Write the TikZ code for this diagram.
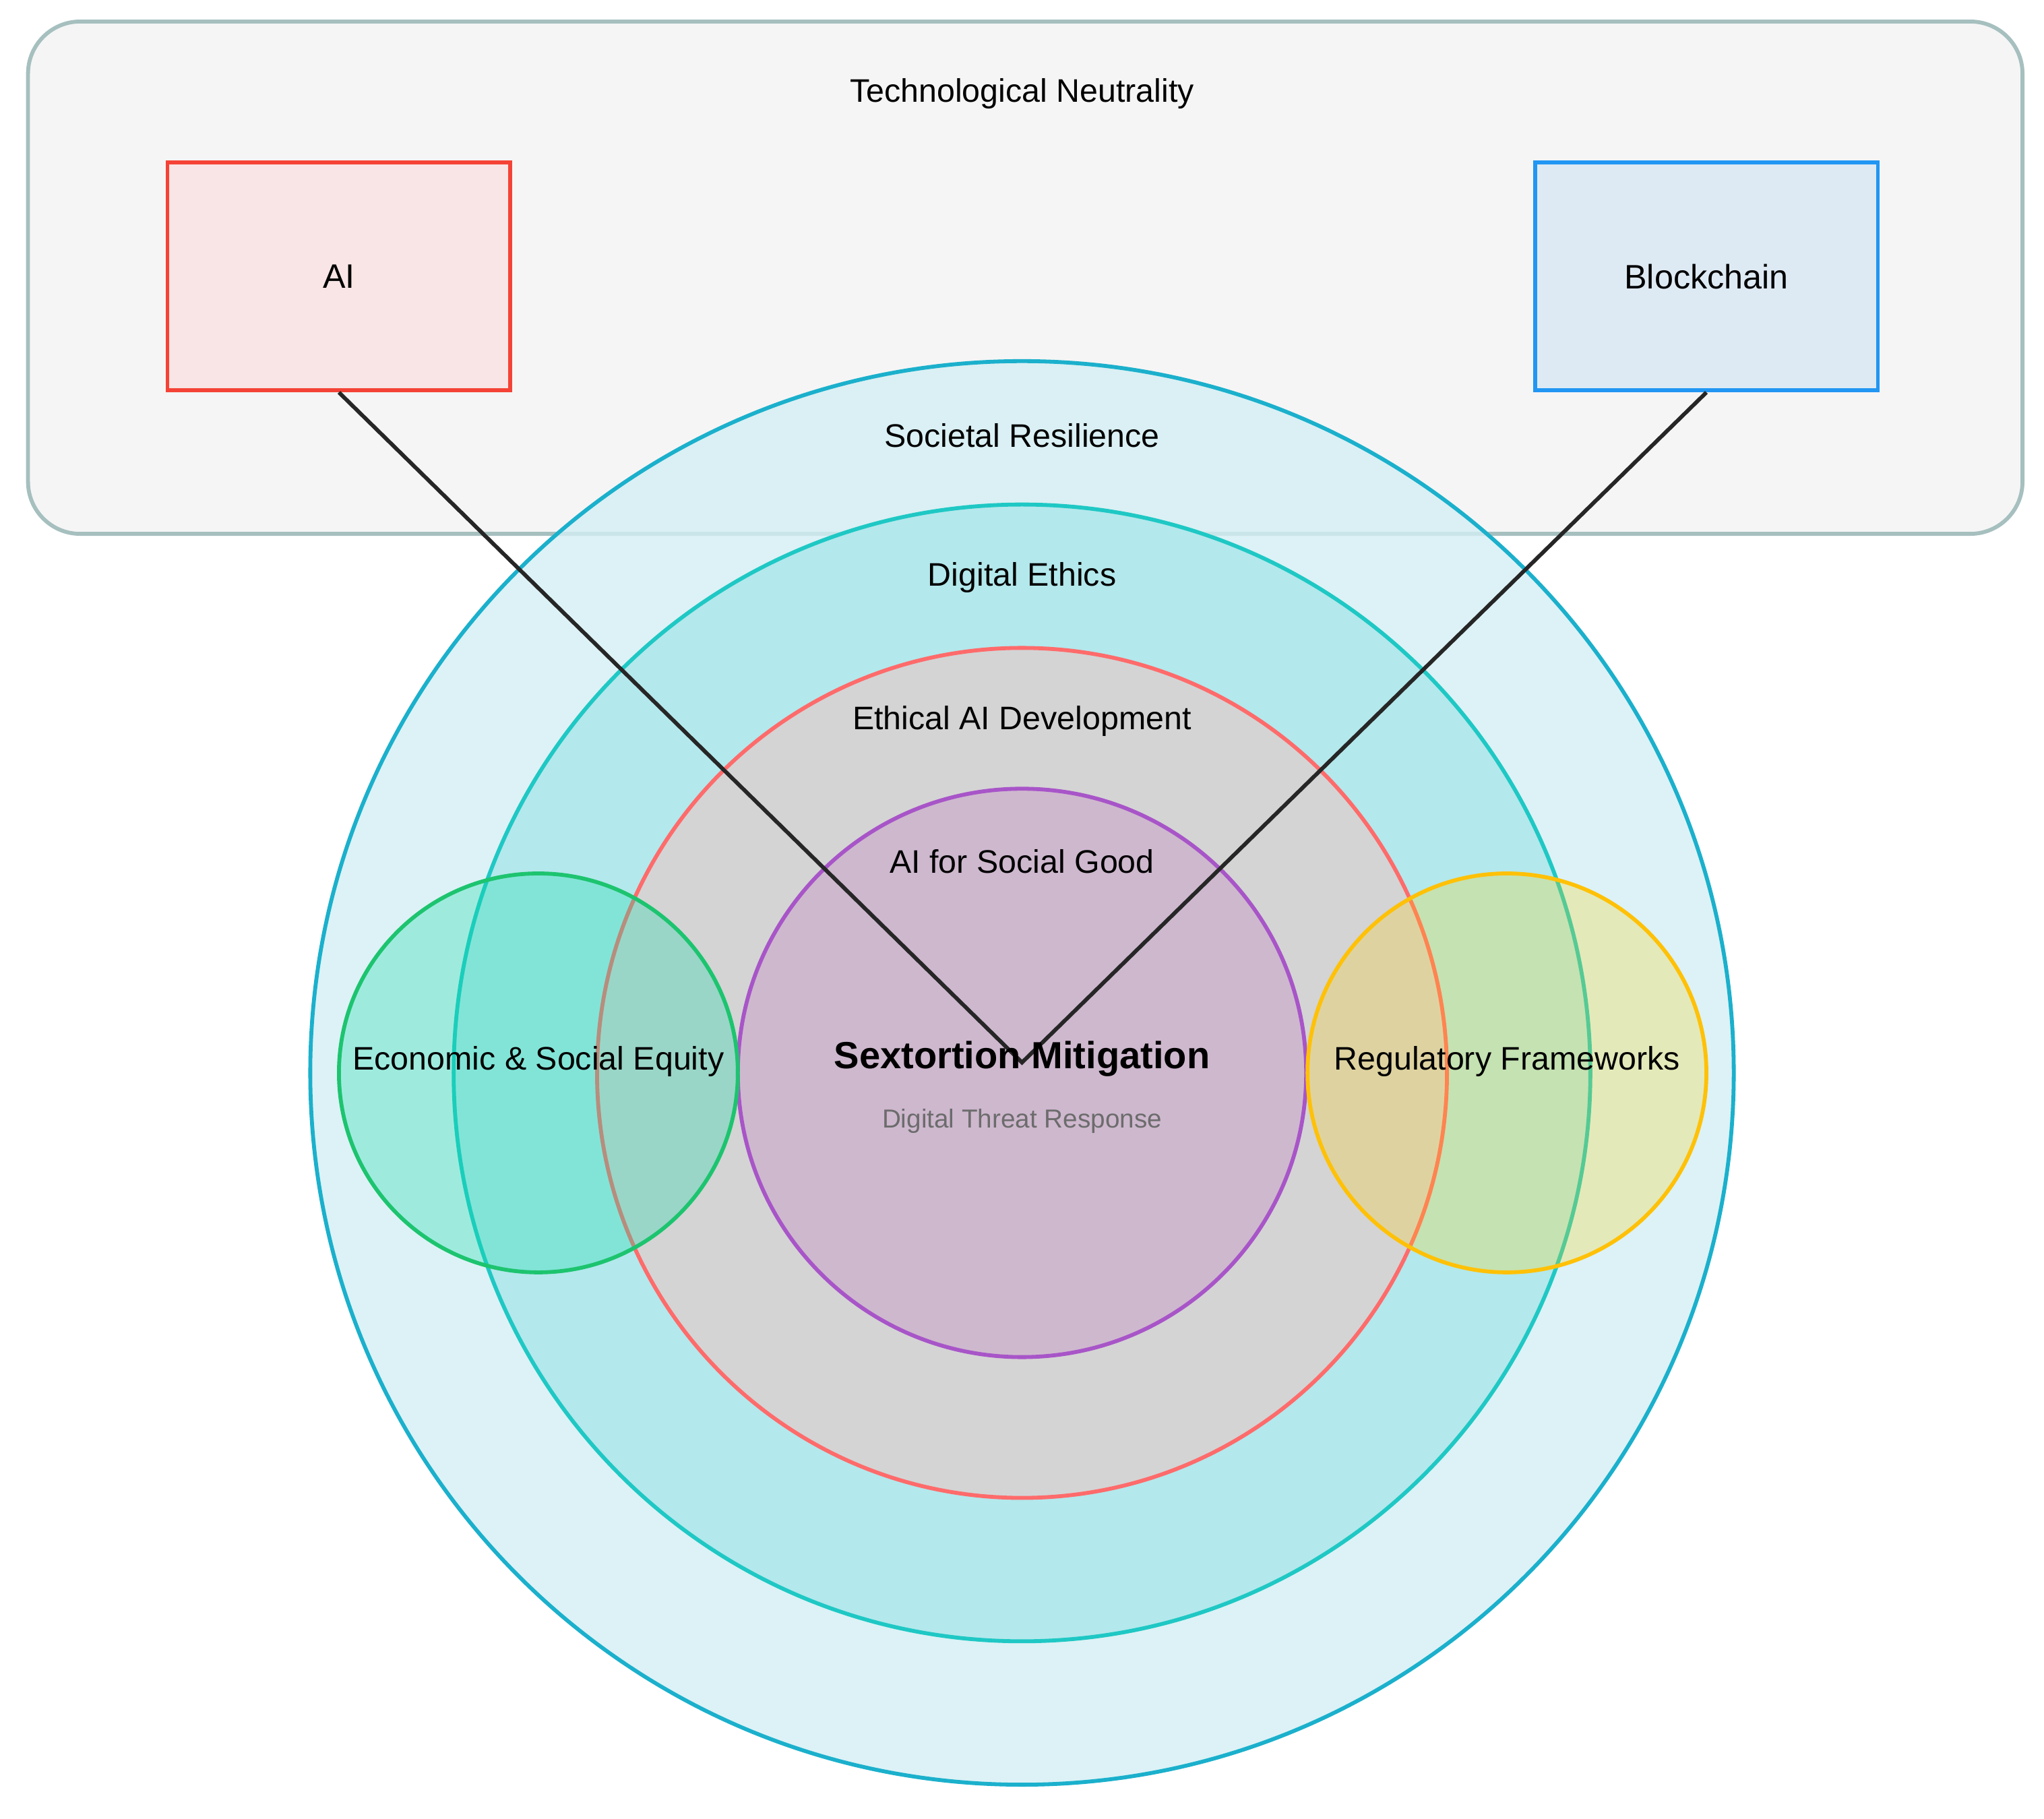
\documentclass[tikz,border=0pt]{standalone}
\usepackage{fontspec}
\setmainfont{Liberation Sans}
\definecolor{c1s}{HTML}{1BB0CC}
\definecolor{c1f}{HTML}{D4EFF4}
\definecolor{c2s}{HTML}{1FC8C4}
\definecolor{c2f}{HTML}{B3E8EC}
\definecolor{c3s}{HTML}{FF6B6B}
\definecolor{c3f}{HTML}{D4D4D4}
\definecolor{c4s}{HTML}{A855C8}
\definecolor{c4f}{HTML}{CEB8CE}
\definecolor{gs}{HTML}{1DC46F}
\definecolor{ys}{HTML}{FFC107}
\begin{document}
\begin{tikzpicture}[x=1pt,y=-1pt,
  lbl/.style={font=\fontsize{25}{28}\selectfont},
  ring/.style={circle,draw,line width=3pt,inner sep=0pt},
  box/.style={draw,line width=3pt,minimum width=263pt,minimum height=175pt,font=\fontsize{26}{30}\selectfont}]
\useasboundingbox (0,0) rectangle (1568,1395);
\fill[white] (0,0) rectangle (1568,1395);
\node[draw=gray!60!teal!50,line width=3pt,fill=gray!8,rounded corners=40pt,minimum width=1530pt,minimum height=393pt,anchor=north west] (tn) at (20,15) {};
\node[lbl] (tnl) at (784,72) {Technological Neutrality};
\node[box,draw={rgb,255:red,244;green,67;blue,54},fill={rgb,255:red,249;green,229;blue,229}] (ai) at (260,212) {AI};
\node[box,draw={rgb,255:red,33;green,150;blue,243},fill={rgb,255:red,222;green,234;blue,243}] (bc) at (1309,212) {Blockchain};
\node[ring,draw=c1s,fill=c1f,fill opacity=0.8,minimum size=1092pt] (r1) at (784,823) {};
\node[ring,draw=c2s,fill=c2f,minimum size=872pt] (r2) at (784,823) {};
\node[ring,draw=c3s,fill=c3f,minimum size=652pt] (r3) at (784,823) {};
\node[ring,draw=c4s,fill=c4f,minimum size=436pt] (r4) at (784,823) {};
\node[ring,draw=gs,fill=gs!60!cyan,fill opacity=0.3,minimum size=306pt] (eq) at (413,823) {};
\node[ring,draw=ys,fill=yellow!70!orange,fill opacity=0.25,minimum size=306pt] (rf) at (1156,823) {};
\node[lbl] at (784,334) {Societal Resilience};
\node[lbl] at (784,443) {Digital Ethics};
\node[lbl] at (784,553) {Ethical AI Development};
\node[lbl] at (784,661) {AI for Social Good};
\node[lbl] at (413,814) {Economic \& Social Equity};
\node[lbl] at (1156,814) {Regulatory Frameworks};
\coordinate (m) at (784,815);
\draw[line width=3pt,black!85] (ai.south) -- (m) -- (bc.south);
\node[font=\bfseries\fontsize{29}{33}\selectfont] at (784,812) {Sextortion Mitigation};
\node[font=\fontsize{20}{23}\selectfont,text=gray!85!black] at (784,860) {Digital Threat Response};
\end{tikzpicture}
\end{document}
